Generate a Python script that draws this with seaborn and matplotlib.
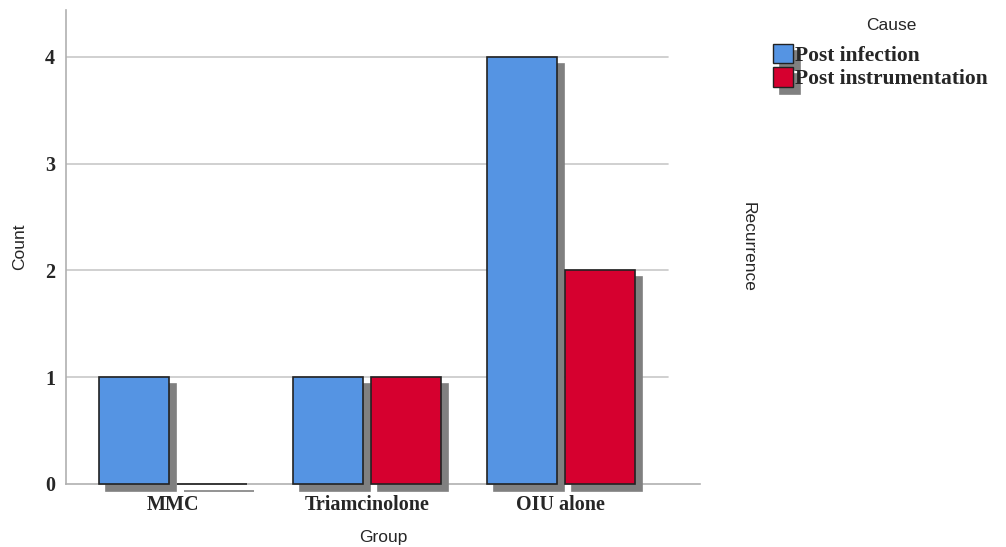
import numpy as np
import pandas as pd
import matplotlib
matplotlib.use('Agg')
import matplotlib.pyplot as plt
import matplotlib.patheffects as pe
from matplotlib.patches import Patch
import seaborn as sns

# data
groups = ['MMC', 'Triamcinolone', 'OIU alone']
causes = ['Post infection', 'Post instrumentation']
post_infection = [1, 1, 4]
post_instrumentation = [0, 1, 2]
colors = ['#5594e3', '#d6002f']

df = pd.DataFrame({
    'Group': groups * 2,
    'Cause': [causes[0]] * 3 + [causes[1]] * 3,
    'Count': post_infection + post_instrumentation,
})

sns.set_style('white')
fig = plt.figure(figsize=(10.06, 5.47), dpi=100)
ax = fig.add_axes([0.0656, 0.1152, 0.630, 0.8665])

shadow = [pe.PathPatchEffect(offset=(5, -5), facecolor='#808080', edgecolor='#808080', linewidth=1.2),
          pe.Normal()]

sns.barplot(data=df, x='Group', y='Count', hue='Cause', palette=colors, width=0.8, gap=0.1,
            edgecolor='#222222', linewidth=1.2, saturation=1, legend=False, ax=ax)
for p in ax.patches:
    p.set_path_effects(shadow)
    p.set_clip_on(False)
    p.set_zorder(3)

ax.set_ylim(0, 4.44)
ax.set_xlim(-0.552, 2.716)
ax.set_yticks([0, 1, 2, 3, 4])
for y in [1, 2, 3, 4]:
    ax.axhline(y, xmax=0.95, color='#c8c8c8', linewidth=1.2, zorder=0)

for side in ['top', 'right']:
    ax.spines[side].set_visible(False)
for side in ['left', 'bottom']:
    ax.spines[side].set_color('#b0b0b0')
    ax.spines[side].set_linewidth(1.2)
    ax.spines[side].set_zorder(1)
ax.tick_params(length=0, pad=8)

tick_font = dict(family='Liberation Serif', weight='bold', size=14.5)
for lbl in ax.get_xticklabels() + ax.get_yticklabels():
    lbl.set_fontproperties(matplotlib.font_manager.FontProperties(**tick_font))

ax.set_xlabel('Group', family='Liberation Sans', fontsize=12.5, labelpad=11)
ax.set_ylabel('Count', family='Liberation Sans', fontsize=12.5, labelpad=13)
fig.text(0.744, 0.548, 'Recurrence', rotation=-90, ha='center', va='center',
         family='Liberation Sans', fontsize=12.5)

# legend (title drawn separately so it sits higher above the entries)
fig.text(0.886, 0.953, 'Cause', ha='center', va='center', family='Liberation Sans', fontsize=12.5)
handles = [Patch(facecolor=c, edgecolor='#222222', linewidth=1, path_effects=shadow) for c in colors]
leg = fig.legend(handles, causes, loc='upper left', bbox_to_anchor=(0.768, 0.92),
                 frameon=False, handlelength=0.95, handleheight=1.0, handletextpad=0.1,
                 labelspacing=0.08, borderaxespad=0, borderpad=0,
                 prop=dict(family='Liberation Serif', weight='bold', size=15.5))

fig.savefig('out.png', dpi=100)
